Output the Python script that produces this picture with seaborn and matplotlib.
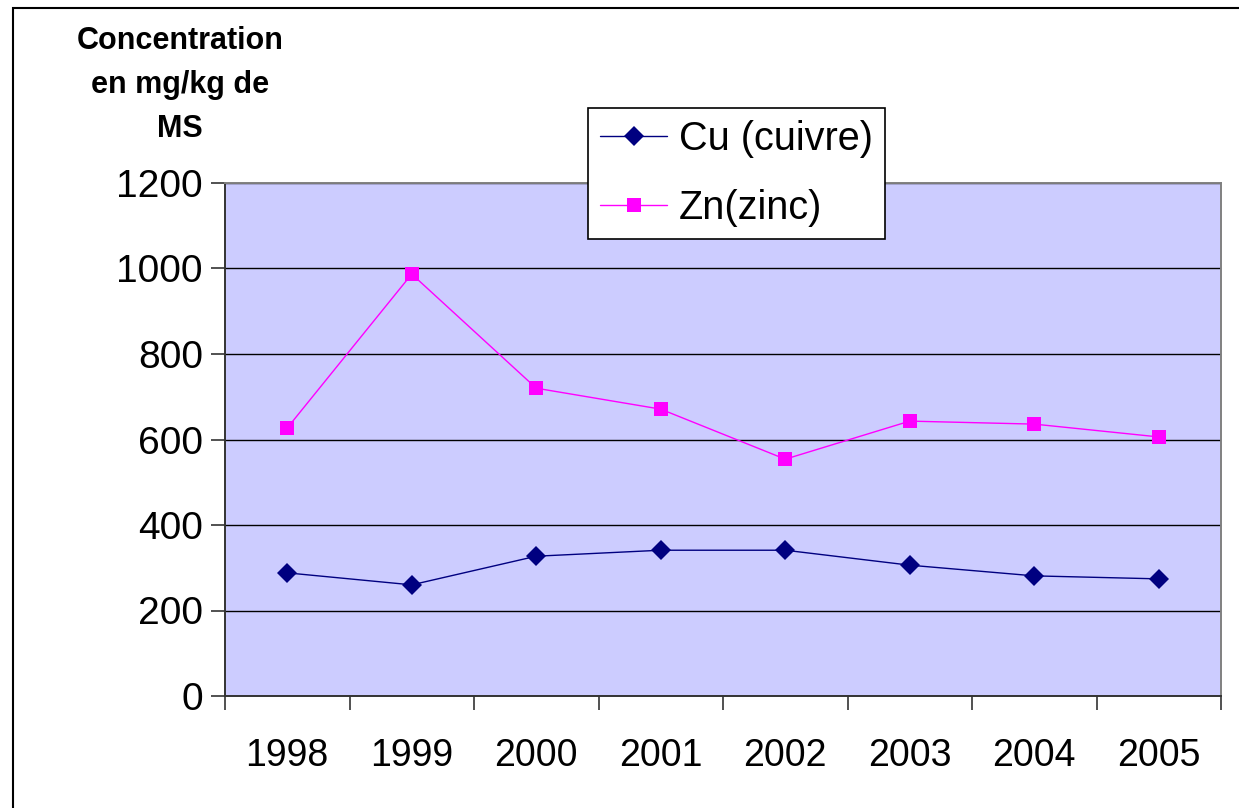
import matplotlib
matplotlib.use("Agg")
import matplotlib.pyplot as plt
import matplotlib.patches as mpatches
import seaborn as sns
import pandas as pd
import numpy as np

years = ["1998", "1999", "2000", "2001", "2002", "2003", "2004", "2005"]
cu_values = [288, 260, 327, 341, 341, 306, 281, 274]
zn_values = [627, 987, 720, 671, 554, 643, 636, 606]
cu_label = "Cu (cuivre)"
zn_label = "Zn(zinc)"
y_ticks = [0, 200, 400, 600, 800, 1000, 1200]
y_title = "Concentration\nen mg/kg de\nMS"

sns.set_theme(style="white")
plt.rcParams["font.family"] = ["Liberation Sans", "DejaVu Sans"]
plt.rcParams["text.color"] = "black"
plt.rcParams["xtick.color"] = "black"
plt.rcParams["ytick.color"] = "black"

df = pd.DataFrame({
    "year": years * 2,
    "value": cu_values + zn_values,
    "series": [cu_label] * len(years) + [zn_label] * len(years),
})
df["pos"] = list(range(len(years))) * 2

fig = plt.figure(figsize=(12.39, 8.08), dpi=100)
fig.patch.set_facecolor("white")
ax = fig.add_axes([225 / 1239, 1 - 696 / 808, (1221 - 225) / 1239, (696 - 183) / 808])
ax.set_facecolor("#CCCCFF")

sns.lineplot(
    data=df, x="pos", y="value", hue="series", style="series",
    palette={cu_label: "#000080", zn_label: "#FF00FF"},
    markers={cu_label: "D", zn_label: "s"},
    dashes=False, linewidth=1.0, markersize=10, markeredgewidth=0,
    ax=ax, legend=False, zorder=3,
)

ax.set_xlim(-0.5, len(years) - 0.5)
ax.set_ylim(0, 1200)
ax.set_yticks(y_ticks)
ax.set_yticklabels([str(v) for v in y_ticks], fontsize=28, color="black")
ax.yaxis.grid(True, color="black", linewidth=1.0)
ax.set_axisbelow(True)

ax.set_xticks(np.arange(len(years)))
ax.set_xticklabels(years, fontsize=27, color="black")
ax.set_xticks(np.arange(len(years) + 1) - 0.5, minor=True)
ax.tick_params(axis="x", which="major", length=0, pad=30)
ax.tick_params(axis="x", which="minor", length=10, width=1.2, color="#333333", direction="out", bottom=True)
ax.tick_params(axis="y", which="major", length=10, width=1.2, color="#333333", direction="out", left=True, pad=6)
ax.set_xlabel("")
ax.set_ylabel("")

for side in ["left", "bottom"]:
    ax.spines[side].set_color("#333333")
    ax.spines[side].set_linewidth(1.4)
for side in ["top", "right"]:
    ax.spines[side].set_color("#808080")
    ax.spines[side].set_linewidth(1.4)

fig.text(180 / 1239, 1 - 85 / 808, y_title, ha="center", va="center",
         fontsize=22, fontweight="bold", linespacing=1.6, color="black")

handles = [
    plt.Line2D([], [], color="#000080", marker="D", markersize=10, linewidth=1.0, markeredgewidth=0),
    plt.Line2D([], [], color="#FF00FF", marker="s", markersize=10, linewidth=1.0, markeredgewidth=0),
]
leg = fig.legend(handles, [cu_label, zn_label], loc="upper left",
                 bbox_to_anchor=(588 / 1239, 1 - 108 / 808), fontsize=28.5,
                 frameon=True, fancybox=False, framealpha=1, edgecolor="black",
                 handlelength=1.7, handletextpad=0.3, borderpad=0.3, labelspacing=0.78,
                 borderaxespad=0)
for t in leg.get_texts():
    t.set_color("black")
leg.get_frame().set_linewidth(1.2)

fig.patches.append(mpatches.Rectangle((13 / 1239, -0.1), 1.2, 1 - 8 / 808 + 0.1,
                                      transform=fig.transFigure, fill=False,
                                      edgecolor="black", linewidth=1.5, zorder=0))

fig.savefig("out.png", dpi=100)
